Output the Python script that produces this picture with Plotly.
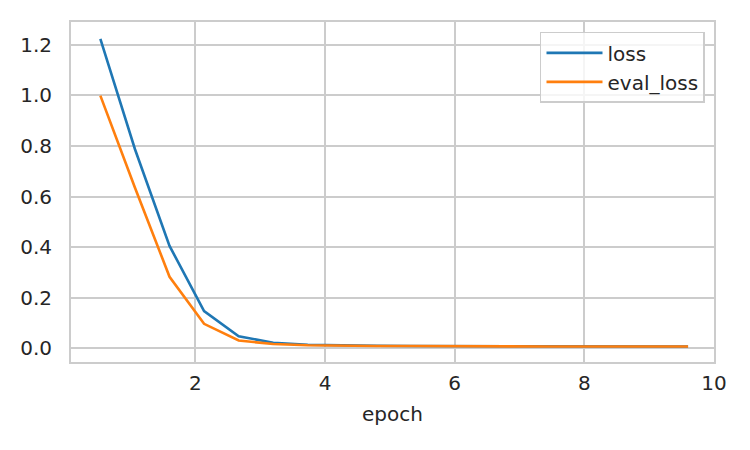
import plotly.graph_objects as go

epoch = [0.533, 1.067, 1.6, 2.133, 2.667, 3.2, 3.733, 4.267, 4.8, 5.333,
         5.867, 6.4, 6.933, 7.467, 8.0, 8.533, 9.067, 9.6]
loss = [1.223, 0.787, 0.405, 0.147, 0.048, 0.022, 0.014, 0.011, 0.010, 0.009,
        0.009, 0.008, 0.008, 0.008, 0.008, 0.007, 0.007, 0.007]
eval_loss = [0.999, 0.635, 0.283, 0.097, 0.031, 0.017, 0.012, 0.010, 0.009, 0.009,
             0.008, 0.008, 0.008, 0.007, 0.007, 0.007, 0.007, 0.007]

x_ticks = [2, 4, 6, 8, 10]
y_ticks = [0.0, 0.2, 0.4, 0.6, 0.8, 1.0, 1.2]

fig = go.Figure()
fig.add_trace(go.Scatter(x=epoch, y=loss, mode="lines", name="loss",
                         line=dict(color="#1f77b4", width=2.6)))
fig.add_trace(go.Scatter(x=epoch, y=eval_loss, mode="lines", name="eval_loss",
                         line=dict(color="#ff7f0e", width=2.6)))

font_color = "#262626"
fig.update_layout(
    width=742, height=442,
    margin=dict(l=62, r=36, t=12, b=88),
    paper_bgcolor="white", plot_bgcolor="white",
    font=dict(family="DejaVu Sans", size=20, color=font_color),
    showlegend=True,
    legend=dict(x=0.986, y=0.971, xanchor="right", yanchor="top",
                bgcolor="rgba(255,255,255,0.8)", bordercolor="#cccccc", borderwidth=1.5,
                itemwidth=56,
                font=dict(size=20, color=font_color)),
    xaxis=dict(range=[0.08, 10.0], tickvals=x_ticks, ticktext=[str(v) for v in x_ticks],
               showgrid=True, gridcolor="#cccccc", gridwidth=1.5, zeroline=False,
               showline=True, linecolor="#cccccc", linewidth=2, mirror=True,
               ticks="outside", ticklen=2, tickcolor="rgba(0,0,0,0)",
               title=dict(text="epoch", font=dict(size=20, color=font_color), standoff=13)),
    yaxis=dict(range=[-0.054, 1.29], tickvals=y_ticks, ticktext=[f"{v:.1f}" for v in y_ticks],
               showgrid=True, gridcolor="#cccccc", gridwidth=1.5, zeroline=False,
               showline=True, linecolor="#cccccc", linewidth=2, mirror=True,
               ticks="outside", ticklen=13, tickcolor="rgba(0,0,0,0)"),
)

fig.write_html("out.html")
